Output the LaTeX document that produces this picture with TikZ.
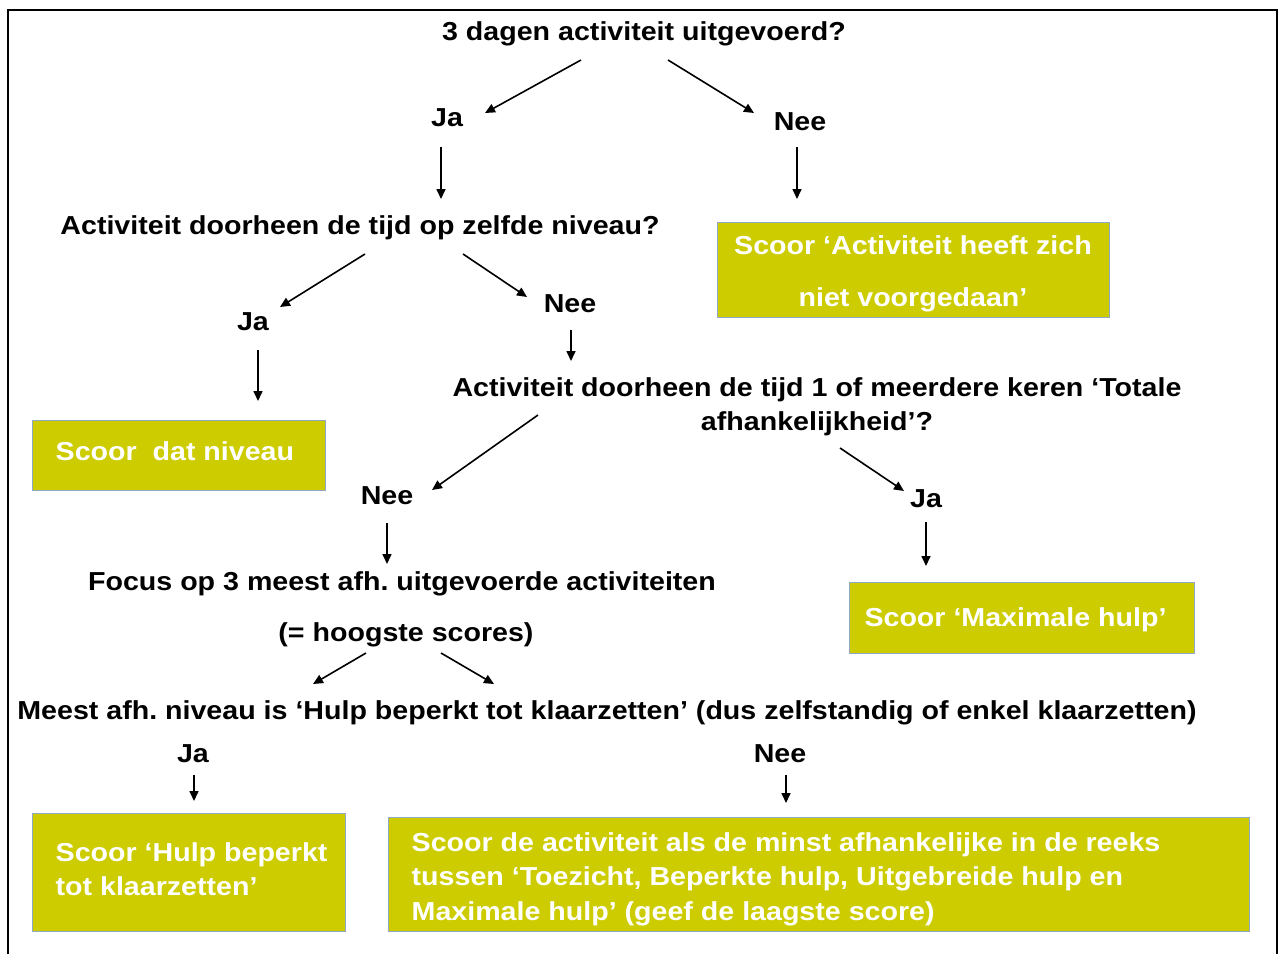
\documentclass[tikz,border=0pt]{standalone}
\usepackage{fontspec}
\setmainfont{Liberation Sans}[FakeStretch=1.10]
\usetikzlibrary{arrows.meta}
\definecolor{boxfill}{HTML}{CCCC00}
\definecolor{boxline}{HTML}{8FA8C4}
\frenchspacing
\tikzset{
  txt/.style={inner sep=0pt, anchor=base, font=\fontsize{26}{34}\selectfont\bfseries},
  box/.style={rectangle, fill=boxfill, draw=boxline, line width=1pt, inner sep=0pt},
  boxtxt/.style={inner sep=0pt, text=white, align=left, font=\fontsize{26}{34.5}\selectfont\bfseries},
  arr/.style={line width=1.6pt, -{Triangle[length=10pt,width=9pt]}},
}
\begin{document}
\begin{tikzpicture}[x=1pt,y=-1pt]
\useasboundingbox (0,0) rectangle (1283,954);
\draw[line width=2pt] (8,954) -- (8,10) -- (1277,10) -- (1277,954);

% questions and answers
\node[txt] (t1) at (644,40) {3 dagen activiteit uitgevoerd?};
\node[txt] (ja1) at (447,126) {Ja};
\node[txt] (nee1) at (800,130) {Nee};
\node[txt] (q2) at (360,234) {Activiteit doorheen de tijd op zelfde niveau?};
\node[txt] (ja2) at (253,330) {Ja};
\node[txt] (nee2) at (570,312) {Nee};
\node[txt, align=center] (q3) at (817,430) {Activiteit doorheen de tijd 1 of meerdere keren ‘Totale\\afhankelijkheid’?};
\node[txt] (nee3) at (387,504) {Nee};
\node[txt] (ja3) at (926,507) {Ja};
\node[txt] (q4) at (402,590) {Focus op 3 meest afh. uitgevoerde activiteiten};
\node[txt] (q4b) at (406,641) {(= hoogste scores)};
\node[txt] (q5) at (607,719) {Meest afh. niveau is ‘Hulp beperkt tot klaarzetten’ (dus zelfstandig of enkel klaarzetten)};
\node[txt] (ja5) at (193,762) {Ja};
\node[txt] (nee5) at (780,762) {Nee};

% boxes
\node[box, minimum width=392pt, minimum height=95pt] (b1) at (913,269.5) {};
\node[boxtxt, align=center, font=\fontsize{26}{52}\selectfont\bfseries] (b1t)
      at ([yshift=-4pt]b1.center) {Scoor ‘Activiteit heeft zich\\niet voorgedaan’};
\node[box, minimum width=293pt, minimum height=70pt] (b2) at (178.5,455) {};
\node[boxtxt, anchor=west] (b2t) at ([xshift=24pt,yshift=4pt]b2.west) {Scoor\ \ dat niveau};
\node[box, minimum width=345pt, minimum height=71pt] (b3) at (1021.5,617.5) {};
\node[boxtxt] (b3t) at ([yshift=-2pt,xshift=-6pt]b3.center) {Scoor ‘Maximale hulp’};
\node[box, minimum width=313pt, minimum height=118pt] (b4) at (188.5,872) {};
\node[boxtxt, anchor=west] (b4t) at ([xshift=24pt,yshift=3pt]b4.west) {Scoor ‘Hulp beperkt\\tot klaarzetten’};
\node[box, minimum width=861pt, minimum height=114pt] (b5) at (818.5,874) {};
\node[boxtxt, anchor=west] (b5t) at ([xshift=24pt,yshift=-5pt]b5.west) {Scoor de activiteit als de minst afhankelijke in de reeks\\tussen ‘Toezicht, Beperkte hulp, Uitgebreide hulp en\\Maximale hulp’ (geef de laagste score)};

% connector end points
\coordinate (a1s) at (581,60);  \coordinate (a1e) at (485,113);
\coordinate (a2s) at (668,60);  \coordinate (a2e) at (754,113);
\coordinate (a3s) at (441,147); \coordinate (a3e) at (441,199);
\coordinate (a4s) at (797,147); \coordinate (a4e) at (797,199);
\coordinate (a5s) at (365,254); \coordinate (a5e) at (280,307);
\coordinate (a6s) at (463,254); \coordinate (a6e) at (527,297);
\coordinate (a7s) at (258,350); \coordinate (a7e) at (258,401);
\coordinate (a8s) at (571,330); \coordinate (a8e) at (571,361);
\coordinate (a9s) at (538,415); \coordinate (a9e) at (432,490);
\coordinate (a10s) at (840,448); \coordinate (a10e) at (904,491);
\coordinate (a11s) at (387,523); \coordinate (a11e) at (387,564);
\coordinate (a12s) at (926,522); \coordinate (a12e) at (926,566);
\coordinate (a13s) at (366,653); \coordinate (a13e) at (313,684);
\coordinate (a14s) at (441,653); \coordinate (a14e) at (494,684);
\coordinate (a15s) at (194,775); \coordinate (a15e) at (194,801);
\coordinate (a16s) at (786,775); \coordinate (a16e) at (786,803);

\foreach \i in {1,...,16} {\draw[arr] (a\i s) -- (a\i e);}
\end{tikzpicture}
\end{document}
